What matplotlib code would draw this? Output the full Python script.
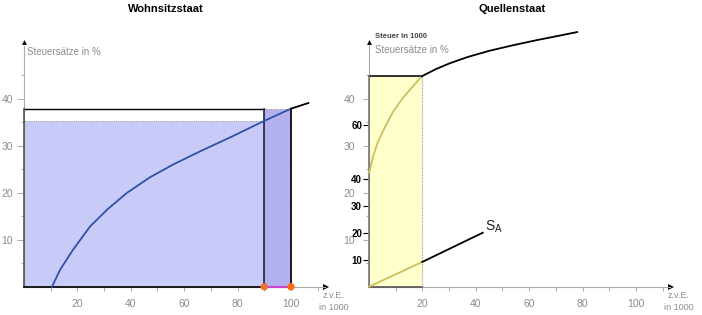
import matplotlib
matplotlib.use("Agg")
import matplotlib.pyplot as plt
from matplotlib.patches import Rectangle

plt.rcParams["font.family"] = ["Liberation Sans", "DejaVu Sans"]

# Wohnsitzstaat (x: z.v.E. in 1000, y: Steuersätze in %)
wohn_x = [10.5, 13.5, 18.4, 24.7, 31.1, 38.6, 47.2, 55.8, 65.9, 78, 90, 100]
wohn_y = [0, 3.6, 7.9, 12.8, 16.4, 20.0, 23.3, 26.0, 28.8, 32.0, 35.3, 37.9]
wohn_ext_x = [100, 106.5]
wohn_ext_y = [37.9, 39.1]
wohn_low_x, wohn_low_y = 90, 35.3
wohn_high_x, wohn_high_y = 100, 37.9
wohn_dots_x = [90, 100]
wohn_dots_y = [0, 0]
x_ticks = [20, 40, 60, 80, 100]
x_minor = [10, 30, 50, 70, 90, 110]
pct_ticks = [10, 20, 30, 40]
pct_minor = [5, 15, 25, 35, 45]

# Quellenstaat
quell_in_x = [0, 0.4, 1.5, 3.4, 6.0, 9.0, 12.7, 16.4, 19.8]
quell_in_y = [24.3, 24.9, 27.7, 30.9, 34.0, 37.2, 40.2, 42.6, 44.8]
quell_out_x = [19.8, 25, 30, 37, 45, 54, 63, 71, 78]
quell_out_y = [44.8, 46.3, 47.5, 48.9, 50.2, 51.4, 52.5, 53.4, 54.2]
sa_in_x = [0, 20]
sa_in_y = [0, 5.3]
sa_out_x = [20, 42.6]
sa_out_y = [5.3, 11.5]
quell_box_x, quell_box_y = 20, 44.8
steuer_ticks = [10, 20, 30, 40, 60]

GRAY = "#8c8c8c"
PCT_PER_STEUER = 2.7 / 4.7


def setup(ax):
    ax.set_xlim(-8, 122)
    ax.set_ylim(-6, 57)
    ax.set_facecolor("none")
    for s in ["top", "right"]:
        ax.spines[s].set_visible(False)
    for s in ["left", "bottom"]:
        ax.spines[s].set_position(("data", 0))
        ax.spines[s].set_color("#aaaaaa")
        ax.spines[s].set_linewidth(0.8)
        ax.spines[s].set_linestyle((0, (1, 1)))
    ax.spines["left"].set_bounds(0, 51.5)
    ax.spines["bottom"].set_bounds(0, 113)
    ax.plot(113, 0, marker=">", color="black", ms=4, mew=0, clip_on=False)
    ax.plot(0, 52, marker="^", color="black", ms=3.5, mew=0, clip_on=False)
    ax.set_xticks(x_ticks)
    ax.set_xticks(x_minor, minor=True)
    ax.set_yticks(pct_ticks)
    ax.set_yticks(pct_minor, minor=True)
    ax.tick_params(axis="both", which="both", colors="#aaaaaa", labelcolor=GRAY,
                   labelsize=7.5, width=0.7)
    ax.tick_params(axis="x", which="major", length=3, pad=6)
    ax.tick_params(axis="x", which="minor", length=3)
    ax.tick_params(axis="y", which="major", length=5, pad=3)
    ax.tick_params(axis="y", which="minor", length=2.5)
    ax.text(116, -1, "z.v.E.\nin 1000", fontsize=6.5, color=GRAY, va="top",
            ha="center", linespacing=1.3)


fig = plt.figure(figsize=(7.02, 3.15), dpi=100)
ax1 = fig.add_axes([2.6 / 702, 0, 347.1 / 702, 296.1 / 315])
ax2 = fig.add_axes([347.6 / 702, 0, 347.1 / 702, 296.1 / 315])
setup(ax1)
setup(ax2)

# --- left panel ---
ax1.add_patch(Rectangle((0, 0), wohn_low_x, wohn_low_y, facecolor="#c8cbf8",
                        edgecolor="#9a9a9a", lw=0.8, ls=(0, (1, 1)), zorder=1))
ax1.add_patch(Rectangle((0, wohn_low_y), wohn_low_x, wohn_high_y - wohn_low_y,
                        facecolor="white", edgecolor="none", zorder=1))
ax1.add_patch(Rectangle((wohn_low_x, 0), wohn_high_x - wohn_low_x, wohn_high_y,
                        facecolor="#b3b1ef", edgecolor="#9a9a9a", lw=0.8,
                        ls=(0, (1, 1)), zorder=1))
ax1.plot([0, wohn_low_x], [wohn_high_y, wohn_high_y], color="black", lw=1, zorder=3)
ax1.plot([0, 0], [0, wohn_high_y], color="#555555", lw=1.2, zorder=3)
ax1.plot([wohn_low_x, wohn_low_x], [0, wohn_high_y], color="#222244", lw=1.2, zorder=3)
ax1.plot([wohn_high_x, wohn_high_x], [0, wohn_high_y], color="black", lw=1.2, zorder=3)
ax1.plot([0, wohn_high_x], [0, 0], color="black", lw=1.2, zorder=3)
ax1.plot(wohn_x, wohn_y, color="#3050a8", lw=1.3, zorder=4)
ax1.plot(wohn_ext_x, wohn_ext_y, color="black", lw=1.3, zorder=4)
ax1.plot(wohn_dots_x, wohn_dots_y, color="#cc44cc", lw=1.5, zorder=5, clip_on=False)
ax1.scatter(wohn_dots_x, wohn_dots_y, s=28, color=["#f07030", "#ff6a10"],
            edgecolor="none", zorder=6, clip_on=False)
ax1.text(1.2, 50.0, "Steuersätze in %", fontsize=7, color=GRAY, va="center")

# --- right panel ---
ax2.spines["left"].set_linestyle("-")
ax2.add_patch(Rectangle((0, 0), quell_box_x, quell_box_y, facecolor="#ffffcc",
                        edgecolor="#9a9a9a", lw=0.8, ls=(0, (1, 1)), zorder=1))
ax2.plot([0, quell_box_x], [quell_box_y, quell_box_y], color="black", lw=1.1, zorder=3)
ax2.plot([0, 0], [0, quell_box_y], color="#777777", lw=1.2, zorder=3)
ax2.plot([0, quell_box_x], [0, 0], color="#555555", lw=1.2, zorder=3)
ax2.plot(quell_in_x, quell_in_y, color="#c8c060", lw=1.3, zorder=4)
ax2.plot(quell_out_x, quell_out_y, color="black", lw=1.3, zorder=4)
ax2.plot(sa_in_x, sa_in_y, color="#c8c060", lw=1.3, zorder=4)
ax2.plot(sa_out_x, sa_out_y, color="black", lw=1.3, zorder=4)
ax2.text(sa_out_x[-1] + 0.8, sa_out_y[-1] + 1.2, r"S$_{\mathregular{A}}$",
         fontsize=10, color="#222222", va="center")
ax2.text(2.2, 53.3, "Steuer in 1000", fontsize=5.5, fontweight="bold",
         color="#444444", va="center")
ax2.text(2.2, 50.3, "Steuersätze in %", fontsize=7, color=GRAY, va="center")
ax2.tick_params(axis="y", which="major", length=4, pad=6)

sec = ax2.secondary_yaxis(8 / 130, functions=(lambda y: y / PCT_PER_STEUER,
                                              lambda s: s * PCT_PER_STEUER))
sec.set_yticks(steuer_ticks)
sec.spines["left"].set_visible(False)
sec.tick_params(axis="y", length=4, width=0.8, color="black", labelsize=7, pad=1)
for lbl in sec.get_yticklabels():
    lbl.set_fontweight("bold")

fig.text(166 / 702, 1 - 9 / 315, "Wohnsitzstaat", fontsize=8, fontweight="bold",
         ha="center", va="center")
fig.text(512 / 702, 1 - 9 / 315, "Quellenstaat", fontsize=8, fontweight="bold",
         ha="center", va="center")

fig.savefig("out.png", dpi=100)
